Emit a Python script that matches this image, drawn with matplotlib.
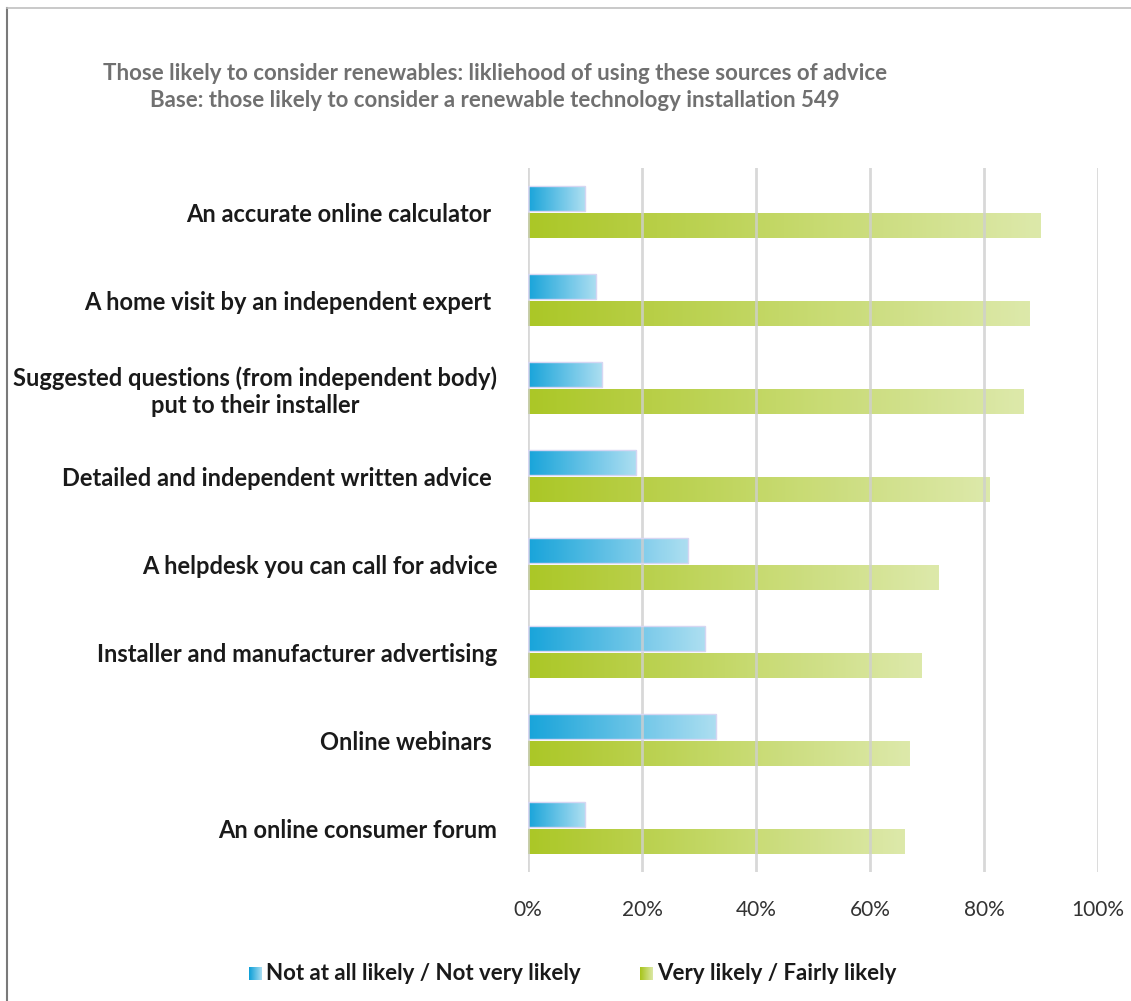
import numpy as np
import matplotlib.pyplot as plt
from matplotlib.colors import LinearSegmentedColormap
from matplotlib.lines import Line2D
from matplotlib.patches import Rectangle

plt.rcParams['font.family'] = ['Lato', 'DejaVu Sans']

categories = [
    "An accurate online calculator ",
    "A home visit by an independent expert ",
    "Suggested questions (from independent body)\nput to their installer",
    "Detailed and independent written advice ",
    "A helpdesk you can call for advice",
    "Installer and manufacturer advertising",
    "Online webinars ",
    "An online consumer forum",
]
not_likely = [10, 12, 13, 19, 28, 31, 33, 10]
likely = [90, 88, 87, 81, 72, 69, 67, 66]
series_names = ["Not at all likely / Not very likely", "Very likely / Fairly likely"]
ticks = [0, 20, 40, 60, 80, 100]

title = ("Those likely to consider renewables: likliehood of using these sources of advice\n"
         "Base: those likely to consider a renewable technology installation 549")

blue_cmap = LinearSegmentedColormap.from_list("b", ["#0b9fd8", "#a9ddf1"])
green_cmap = LinearSegmentedColormap.from_list("g", ["#a7c41a", "#dbe8a6"])
grad = np.linspace(0, 1, 256).reshape(1, -1)

W, H = 1131, 1001
fig = plt.figure(figsize=(W / 100, H / 100), dpi=100)
ax = fig.add_axes([528 / W, 1 - 872 / H, 570 / W, 704 / H])

y = np.arange(len(categories))
bh = 0.28
off = 0.155


def grad_bar(ax, y0, val, h, cmap):
    # horizontal gradient bar drawn as an image stretched over the bar extent
    ax.imshow(grad, cmap=cmap, extent=(0, val, y0 + h / 2, y0 - h / 2),
              aspect='auto', zorder=2, alpha=0.95, interpolation='bilinear')


for i in y:
    grad_bar(ax, i - off, not_likely[i], bh, blue_cmap)
    ax.add_patch(Rectangle((0, i - off - bh / 2), not_likely[i], bh, fill=False,
                           edgecolor="#d6d6f2", lw=1.0, zorder=3))
    grad_bar(ax, i + off, likely[i], bh, green_cmap)

ax.set_xlim(0, 100)
ax.set_ylim(len(categories) - 0.5, -0.5)
ax.set_xticks(ticks)
ax.set_xticklabels([f"{t}%" for t in ticks], fontsize=15, color="#333333")
ax.set_yticks(y)
ax.set_yticklabels(categories, fontsize=17, fontweight='bold', color="#1a1a1a",
                   multialignment='center')
ax.tick_params(length=0, axis='x', pad=20)
ax.tick_params(length=0, axis='y', pad=22)
for s in ax.spines.values():
    s.set_visible(False)
ax.set_axisbelow(False)
ax.grid(axis='x', color="#cfcfcf", lw=2, alpha=0.8, zorder=4)
ax.grid(axis='y', visible=False)

fig.text(495 / W, 1 - 87 / H, title, ha='center', va='center', fontsize=16,
         fontweight='bold', color="#707070", linespacing=1.35)

# legend with gradient squares
for x0, cmap, name in [(249, blue_cmap, series_names[0]), (640, green_cmap, series_names[1])]:
    lax = fig.add_axes([x0 / W, 1 - 980 / H, 13 / W, 13 / H])
    lax.imshow(grad, cmap=cmap, aspect='auto', interpolation='bilinear')
    lax.axis('off')
    fig.text((x0 + 17) / W, 1 - 973 / H, name, ha='left', va='center',
             fontsize=16, fontweight='bold', color="#1a1a1a")

# outer frame lines
fig.add_artist(Line2D([7 / W, 7 / W], [0, 1 - 8 / H], color="#7a7a7a", lw=1.5))
fig.add_artist(Line2D([7 / W, 1], [1 - 8 / H, 1 - 8 / H], color="#c0c0c0", lw=1.2))

fig.savefig("out.png", dpi=100)
